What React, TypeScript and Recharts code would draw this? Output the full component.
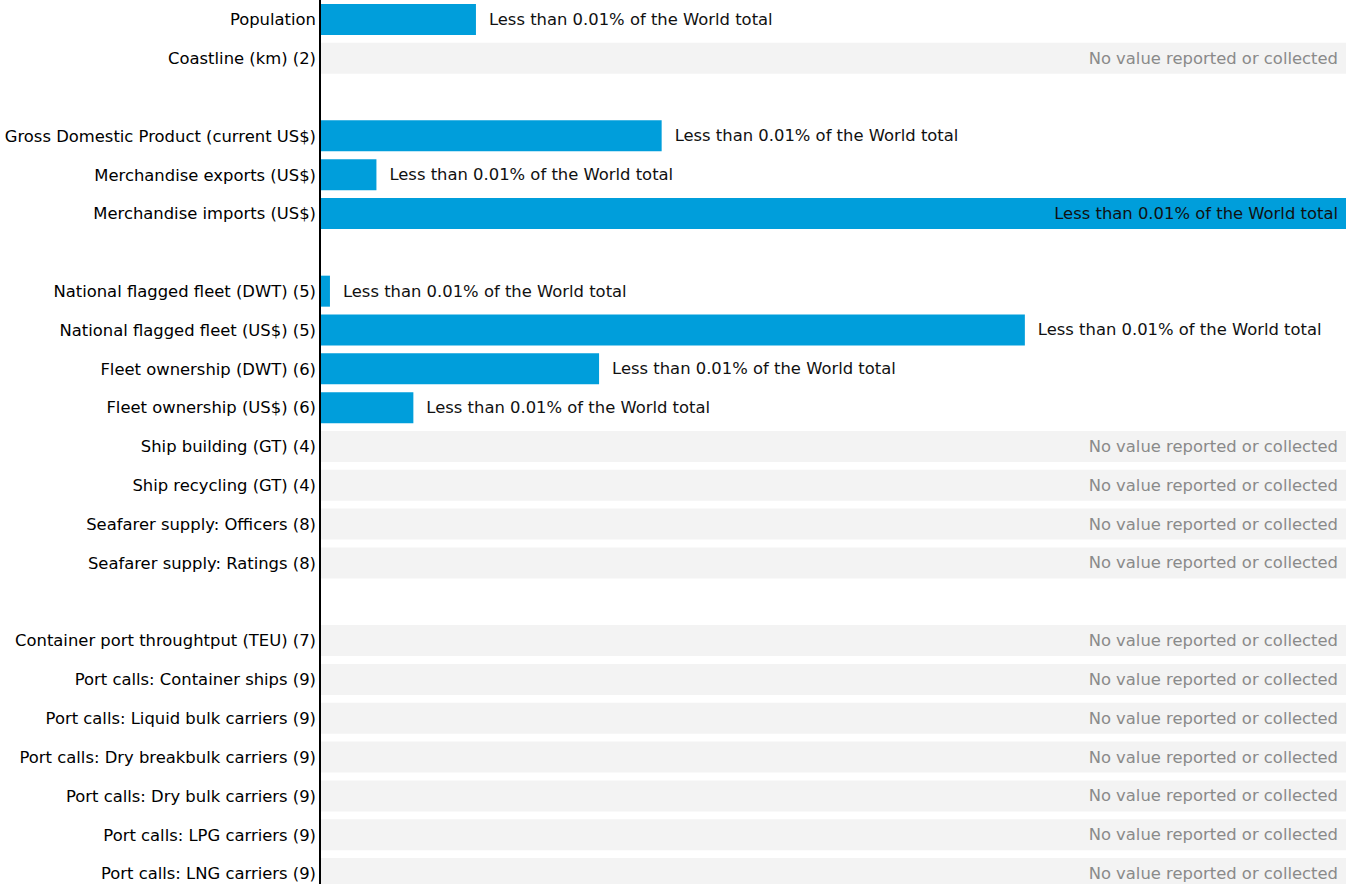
import { BarChart, Bar, XAxis, YAxis, LabelList } from 'recharts';

// row order as in the reference, '' = spacer row
const categories = [
  'Population',
  'Coastline (km) (2)',
  '',
  'Gross Domestic Product (current US$)',
  'Merchandise exports (US$)',
  'Merchandise imports (US$)',
  '',
  'National flagged fleet (DWT) (5)',
  'National flagged fleet (US$) (5)',
  'Fleet ownership (DWT) (6)',
  'Fleet ownership (US$) (6)',
  'Ship building (GT) (4)',
  'Ship recycling (GT) (4)',
  'Seafarer supply: Officers (8)',
  'Seafarer supply: Ratings (8)',
  '',
  'Container port throughtput (TEU) (7)',
  'Port calls: Container ships (9)',
  'Port calls: Liquid bulk carriers (9)',
  'Port calls: Dry breakbulk carriers (9)',
  'Port calls: Dry bulk carriers (9)',
  'Port calls: LPG carriers (9)',
  'Port calls: LNG carriers (9)',
];

// relative bar length (largest = 1)
const shares: (number | null)[] = [
  0.152, null, null,
  0.333, 0.055, 1.0, null,
  0.0097, 0.687, 0.272, 0.091, null, null, null, null, null,
  null, null, null, null, null, null, null,
];

// 'v' = value, 'n' = no value, 'g' = gap
const status = [
  'v', 'n', 'g',
  'v', 'v', 'v', 'g',
  'v', 'v', 'v', 'v', 'n', 'n', 'n', 'n', 'g',
  'n', 'n', 'n', 'n', 'n', 'n', 'n',
];

const valueLabel = 'Less than 0.01% of the World total';
const noValueLabel = 'No value reported or collected';

const data = categories.map((name, i) => ({
  name,
  share: status[i] === 'v' ? shares[i] : null,
  noValue: status[i] === 'n' ? 1 : null,
}));

const FONT = 'DejaVu Sans';
const FS = 16.4;
const PLOT_RIGHT = 1346;

const ShareLabel = (props: any) => {
  const { x, y, width, height, value } = props;
  if (value == null) return null;
  const end = x + width;
  const inside = end + 13 + 290 > PLOT_RIGHT;
  return (
    <text
      x={inside ? end - 8 : end + 13}
      y={y + height / 2}
      textAnchor={inside ? 'end' : 'start'}
      dominantBaseline="central"
      fontFamily={FONT}
      fontSize={FS}
      fill="#111"
    >
      {valueLabel}
    </text>
  );
};

const NoValueLabel = (props: any) => {
  const { x, y, width, height, value } = props;
  if (value == null) return null;
  return (
    <text
      x={x + width - 8}
      y={y + height / 2}
      textAnchor="end"
      dominantBaseline="central"
      fontFamily={FONT}
      fontSize={FS}
      fill="#8a8a8a"
    >
      {noValueLabel}
    </text>
  );
};

export default function App() {
  return (
    <div style={{ position: 'absolute', top: 0, left: 0 }}>
      <BarChart
        width={1358}
        height={893}
        data={data}
        layout="vertical"
        margin={{ top: 0, right: 12, bottom: 0, left: 0 }}
        barCategoryGap="10%"
      >
        <XAxis type="number" domain={[0, 1]} hide />
        <YAxis
          type="category"
          dataKey="name"
          width={320}
          interval={0}
          tickLine={false}
          tickSize={0}
          tickMargin={4}
          axisLine={{ stroke: '#000', strokeWidth: 2 }}
          tick={{ fill: '#000', fontSize: FS, fontFamily: FONT }}
        />
        <Bar dataKey="share" stackId="s" fill="#009edb" isAnimationActive={false}>
          <LabelList dataKey="share" content={ShareLabel} />
        </Bar>
        <Bar dataKey="noValue" stackId="s" fill="#f3f3f3" isAnimationActive={false}>
          <LabelList dataKey="noValue" content={NoValueLabel} />
        </Bar>
      </BarChart>
    </div>
  );
}
